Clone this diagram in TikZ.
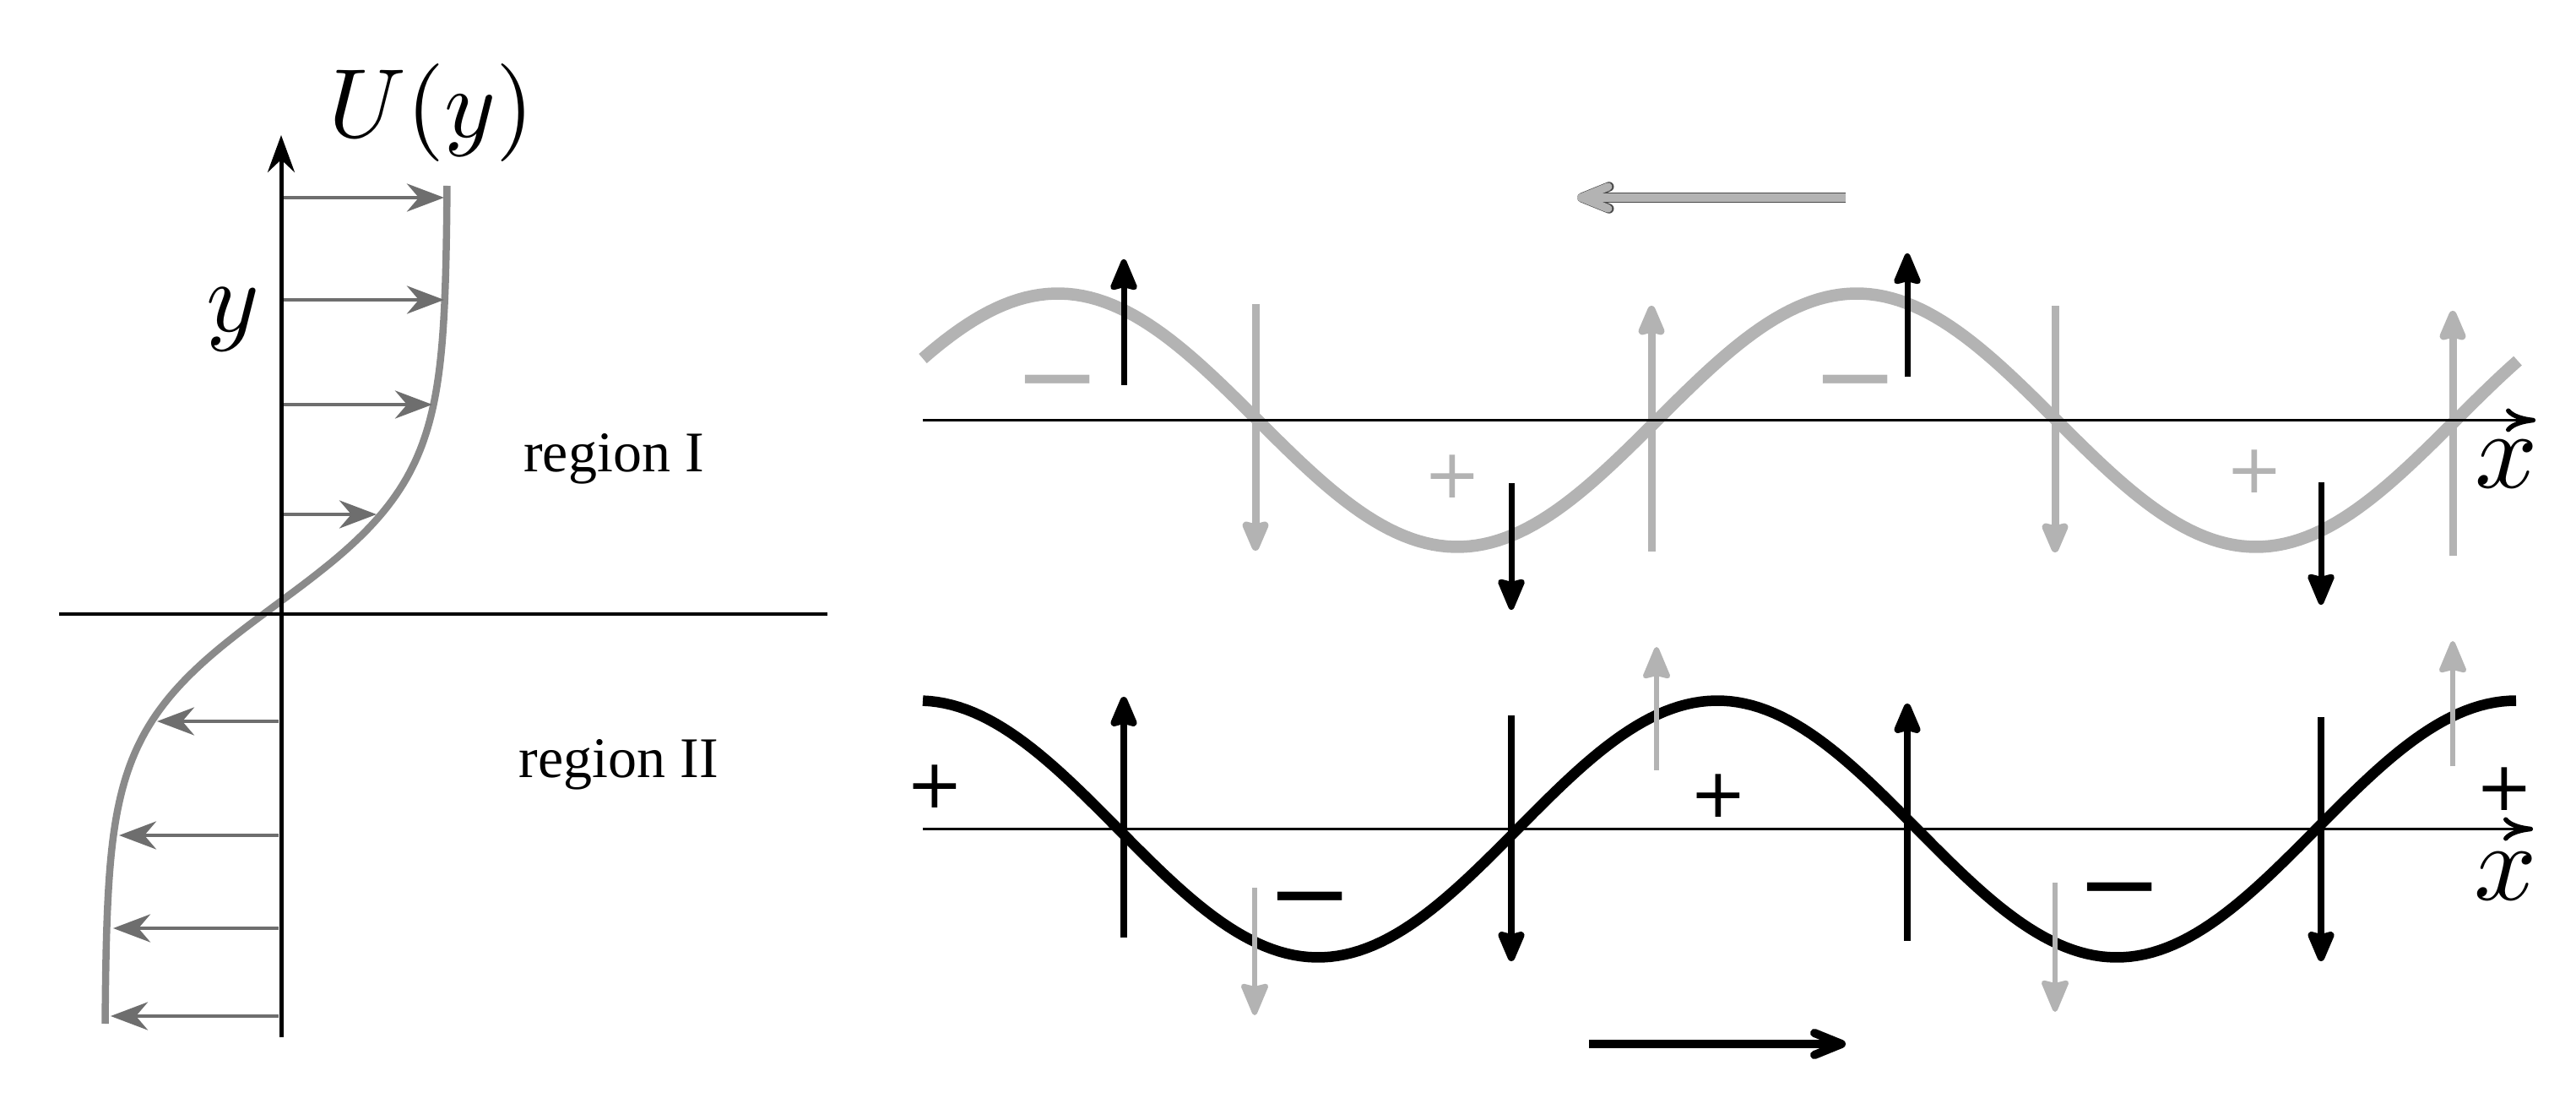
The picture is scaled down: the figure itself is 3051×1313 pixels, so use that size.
\documentclass[tikz,border=0pt]{standalone}
\usepackage{graphicx}
\usepackage{fontspec}
\newfontfamily\timesfont{Liberation Serif}
\newfontfamily\signfont{DejaVu Sans}
\usetikzlibrary{arrows.meta}
\definecolor{profarrow}{HTML}{6E6E6E}
\definecolor{profcurve}{HTML}{8A8A8A}
\definecolor{lgray}{HTML}{B3B3B3}
\definecolor{outl}{HTML}{4A4A4A}
\begin{document}
\begin{tikzpicture}[x=0.1mm,y=-0.1mm,
  profarr/.style={draw=profarrow, line width=0.48mm, -{Stealth[length=4.4mm,width=3.3mm,inset=1.4mm]}},
  vtipstyle/.style={-{Stealth[length=4.3mm,width=3.5mm,inset=0.4mm,round]}},
  graybig/.style={draw=lgray, line width=0.9mm, vtipstyle},
  blackbig/.style={draw=black, line width=0.7mm, vtipstyle},
  blackbot/.style={draw=black, line width=0.85mm, vtipstyle},
  graysmall/.style={draw=lgray, line width=0.6mm, vtipstyle},
  waveaxis/.style={draw=black, line width=0.3mm, -{Computer Modern Rightarrow[length=3.5mm,width=2.8mm,line width=0.55mm]}},
  barbtip/.style={-{Straight Barb[length=3.2mm,width=2.6mm,round]}},
  mathlbl/.style={inner sep=0pt, text=black},
  regionlbl/.style={inner sep=0pt, anchor=base, font=\timesfont\fontsize{19.35}{23}\selectfont},
  plussign/.style={inner sep=0pt, anchor=base, font=\signfont\fontsize{23}{28}\selectfont},
  minussign/.style={inner sep=0pt, anchor=base, font=\signfont\fontsize{34.7}{40}\selectfont},
]
\useasboundingbox (0,0) rectangle (3051,1313);

% ---------------- left panel: velocity profile ----------------
\coordinate (vb) at (333,1228);
\coordinate (vt) at (333,160);
\coordinate (hl) at (70,727);
\coordinate (hr) at (980,727);
\draw[profcurve, line width=0.85mm] plot[domain=220:1212, samples=150] ({327+203*tanh((716-\x)/150)},\x);
\draw[black, line width=0.45mm] (hl) -- (hr);
\draw[black, line width=0.5mm, -{Stealth[length=4.4mm,width=3.2mm,inset=1.5mm]}] (vb) -- (vt);

\coordinate (a1s) at (336,234);  \coordinate (a1e) at (526,234);
\coordinate (a2s) at (336,355);  \coordinate (a2e) at (526,355);
\coordinate (a3s) at (336,479);  \coordinate (a3e) at (512,479);
\coordinate (a4s) at (336,609);  \coordinate (a4e) at (446,609);
\coordinate (b1s) at (330,854);  \coordinate (b1e) at (186,854);
\coordinate (b2s) at (330,989);  \coordinate (b2e) at (141,989);
\coordinate (b3s) at (330,1099); \coordinate (b3e) at (134,1099);
\coordinate (b4s) at (330,1203); \coordinate (b4e) at (131,1203);
\foreach \s/\e in {a1s/a1e,a2s/a2e,a3s/a3e,a4s/a4e,b1s/b1e,b2s/b2e,b3s/b3e,b4s/b4e}
  \draw[profarr] (\s) -- (\e);

\node[mathlbl, anchor=base] (Ulab) at (511,163) {\scalebox{3.3}{$U(y)$}};
\node[mathlbl] (ylab) at (276,378) {\scalebox{3.4}{$y$}};
\node[regionlbl] (r1) at (727,559) {region I};
\node[regionlbl] (r2) at (733,920) {region II};

% ---------------- top wave panel (grey) ----------------
\coordinate (tax0) at (1093,497.5);
\coordinate (tax1) at (3003,497.5);
\draw[lgray, line width=1.45mm] plot[domain=1093:2982, samples=220] (\x,{497.5-150*cos((\x-1253)/946*360)});

\coordinate (g1a) at (1487,360);  \coordinate (g1b) at (1487,652);
\coordinate (g2a) at (1956,653);  \coordinate (g2b) at (1956,362);
\coordinate (g3a) at (2434,362);  \coordinate (g3b) at (2434,654);
\coordinate (g4a) at (2905,658);  \coordinate (g4b) at (2905,368);
\foreach \s/\e in {g1a/g1b,g2a/g2b,g3a/g3b,g4a/g4b}
  \draw[graybig] (\s) -- (\e);

\draw[waveaxis] (tax0) -- (tax1);

\coordinate (k1a) at (1331,456);  \coordinate (k1b) at (1331,307);
\coordinate (k2a) at (1790,572);  \coordinate (k2b) at (1790,722);
\coordinate (k3a) at (2259,446);  \coordinate (k3b) at (2259,300);
\coordinate (k4a) at (2749,571);  \coordinate (k4b) at (2749,716);
\foreach \s/\e in {k1a/k1b,k2a/k2b,k3a/k3b,k4a/k4b}
  \draw[blackbig] (\s) -- (\e);

\node[minussign, text=lgray] (tm1) at (1253,488) {−};
\node[minussign, text=lgray] (tm2) at (2198,488) {−};
\node[plussign, text=lgray] (tp1) at (1720,590) {+};
\node[plussign, text=lgray] (tp2) at (2670,584) {+};
\node[mathlbl] (xtop) at (2969,550) {\scalebox{3.7}{$x$}};

% big grey arrow (phase speed, upper wave)
\coordinate (ga0) at (2186,234);
\coordinate (ga1) at (1868,234);
\draw[outl, line width=1.15mm, barbtip] (ga0) -- (ga1);
\draw[lgray, line width=0.95mm, barbtip] (ga0) -- (ga1);

% ---------------- bottom wave panel (black) ----------------
\coordinate (bax0) at (1093,981.5);
\coordinate (bax1) at (3000,981.5);
\draw[waveaxis] (bax0) -- (bax1);
\draw[black, line width=1.25mm] plot[domain=1093:2980, samples=220] (\x,{981.5-152*cos((\x-1088)/946*360)});

\coordinate (m1a) at (1331,1110); \coordinate (m1b) at (1331,825);
\coordinate (m2a) at (1790,847);  \coordinate (m2b) at (1790,1138);
\coordinate (m3a) at (2259,1114); \coordinate (m3b) at (2259,833);
\coordinate (m4a) at (2749,849);  \coordinate (m4b) at (2749,1138);
\foreach \s/\e in {m1a/m1b,m2a/m2b,m3a/m3b,m4a/m4b}
  \draw[blackbot] (\s) -- (\e);

\coordinate (h1a) at (1486,1051); \coordinate (h1b) at (1486,1202);
\coordinate (h2a) at (1962,912);  \coordinate (h2b) at (1962,766);
\coordinate (h3a) at (2434,1045); \coordinate (h3b) at (2434,1198);
\coordinate (h4a) at (2905,907);  \coordinate (h4b) at (2905,759);
\foreach \s/\e in {h1a/h1b,h2a/h2b,h3a/h3b,h4a/h4b}
  \draw[graysmall] (\s) -- (\e);

\node[plussign] (bp1) at (1107,956) {+};
\node[plussign] (bp2) at (2035,967) {+};
\node[plussign] (bp3) at (2966,959) {+};
\node[minussign] (bm1) at (1552,1099) {−};
\node[minussign] (bm2) at (2511,1088) {−};
\node[mathlbl] (xbot) at (2968,1038) {\scalebox{3.7}{$x$}};

% big black arrow (lower wave)
\coordinate (ka0) at (1882,1236);
\coordinate (ka1) at (2186,1236);
\draw[black, line width=1.0mm, barbtip] (ka0) -- (ka1);
\end{tikzpicture}
\end{document}
